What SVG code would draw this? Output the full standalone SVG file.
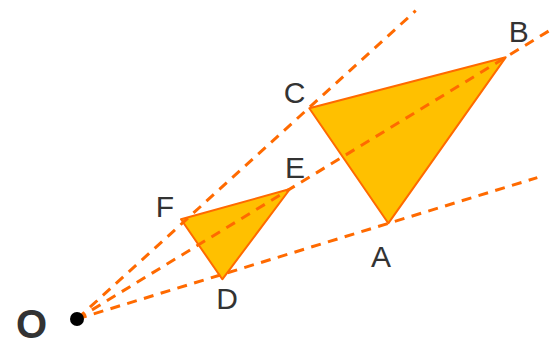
<svg xmlns="http://www.w3.org/2000/svg" width="552" height="343" viewBox="0 0 552 343">
<style>
.ray{stroke:#FF6A00;stroke-width:3;stroke-dasharray:10,7.5;fill:none}
.tri{fill:#FFC000;stroke:#FF6A00;stroke-width:2;stroke-linejoin:round}
.lbl{font-family:"Liberation Sans",Arial,sans-serif;font-size:30px;fill:#333333;text-anchor:middle}
</style>
<rect width="552" height="343" fill="#ffffff"/>
<g id="triangle-ABC"><polygon class="tri" points="388.3,223.3 505.7,57.3 309.3,108.3"/></g>
<g id="triangle-DEF"><polygon class="tri" points="222.3,279.3 290,189 181,219.3"/></g>
<g id="connectors">
<line class="ray" x1="77" y1="319" x2="537.3" y2="177.6"/>
<line class="ray" x1="77" y1="319" x2="552" y2="29"/>
<line class="ray" x1="77" y1="319" x2="415.7" y2="10.7"/>
</g>
<g id="point-O"><circle cx="77" cy="319" r="7" fill="#000"/>
<text x="31.5" y="337.5" class="lbl" style="font-size:40px;font-weight:bold;fill:#333">O</text></g>
<g id="label-A"><text class="lbl" x="381" y="266.7">A</text></g>
<g id="label-B"><text class="lbl" x="518.8" y="41.7">B</text></g>
<g id="label-C"><text class="lbl" x="294.5" y="103">C</text></g>
<g id="label-D"><text class="lbl" x="227" y="309.3">D</text></g>
<g id="label-E"><text class="lbl" x="295" y="178.3">E</text></g>
<g id="label-F"><text class="lbl" x="165" y="216.7">F</text></g>
</svg>
